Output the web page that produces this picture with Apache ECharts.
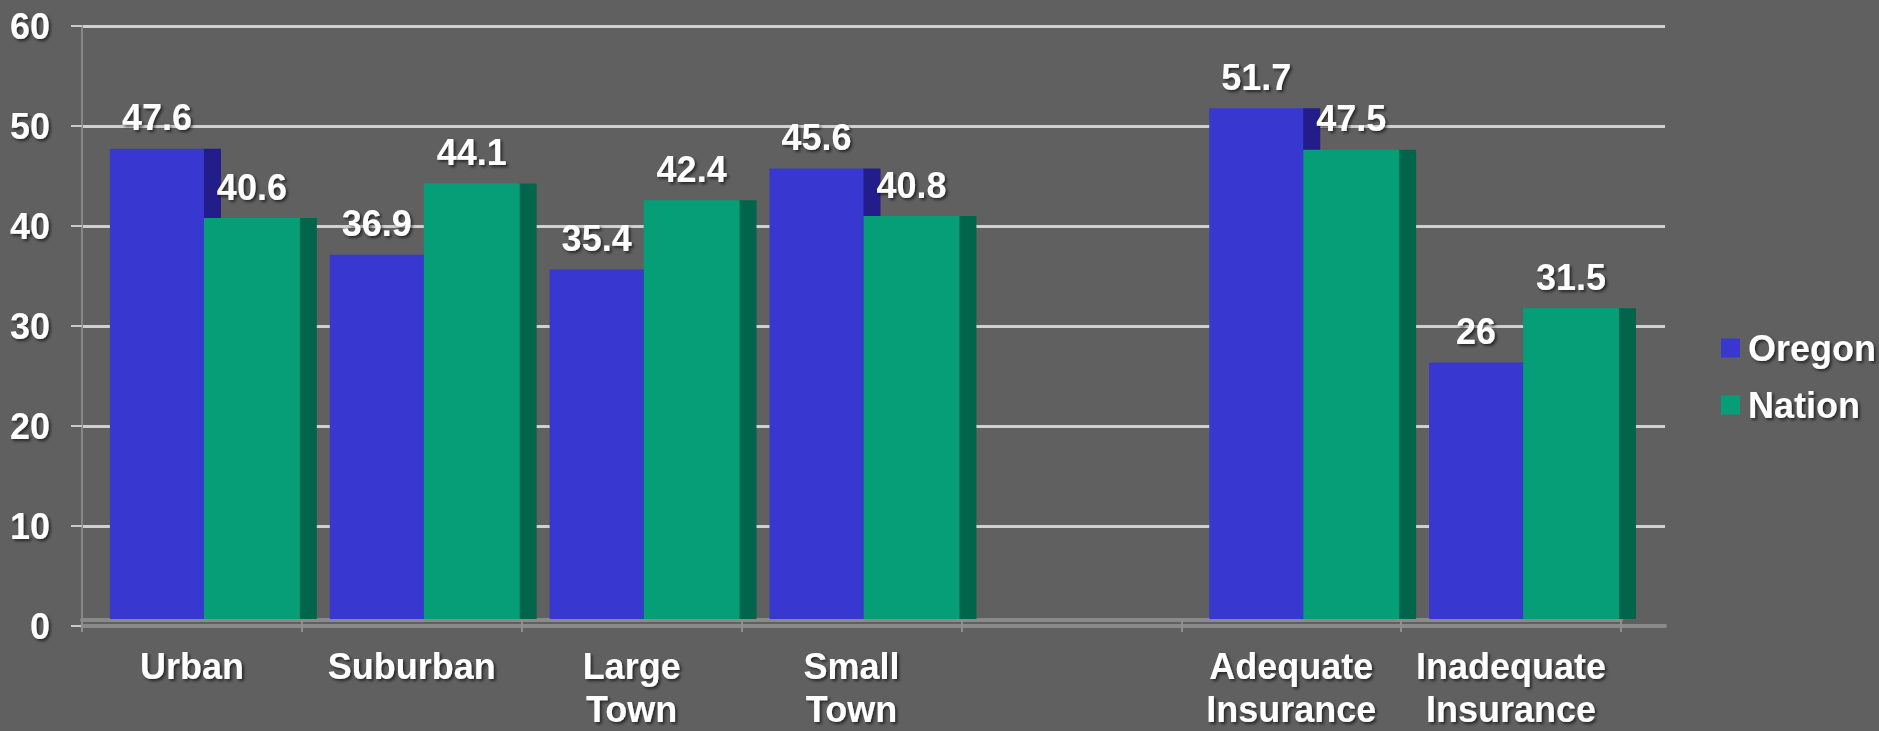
<!DOCTYPE html>
<html>
<head>
<meta charset="utf-8">
<script src="https://cdn.jsdelivr.net/npm/echarts@6/dist/echarts.min.js"></script>
<style>
html,body{margin:0;padding:0;background:#606060;}
#chart{width:1879px;height:731px;}
</style>
</head>
<body>
<div id="chart"></div>
<script>
const categories = ['Urban', 'Suburban', 'Large\nTown', 'Small\nTown', '', 'Adequate\nInsurance', 'Inadequate\nInsurance'];
const oregon = [47.6, 36.9, 35.4, 45.6, null, 51.7, 26];
const nation = [40.6, 44.1, 42.4, 40.8, null, 47.5, 31.5];
const yTicks = { min: 0, max: 60, interval: 10 };

const FONT = "'Liberation Sans', Arial, sans-serif";
const shadow = { textShadowColor: 'rgba(0,0,0,0.6)', textShadowBlur: 3, textShadowOffsetX: 2, textShadowOffsetY: 2 };

function makeRender(frontColor, sideColor, f0, f1, s1) {
  return function (params, api) {
    const v = api.value(1);
    if (v == null || isNaN(v)) return null;
    const idx = api.value(0);
    const top = api.coord([idx, v]);
    const base = api.coord([idx, 0]);
    const bw = api.size([1, 0])[0];
    const x0 = top[0] + f0 * bw, x1 = top[0] + f1 * bw, xs = top[0] + s1 * bw;
    const h = base[1] - top[1] - 1;
    return {
      type: 'group',
      children: [
        { type: 'rect', shape: { x: x1 - 1, y: top[1], width: xs - x1 + 1, height: h }, style: { fill: sideColor } },
        {
          type: 'rect', shape: { x: x0, y: top[1], width: x1 - x0, height: h }, style: { fill: frontColor },
          textContent: {
            style: Object.assign({
              text: String(v), fill: '#ffffff', fontSize: 36, fontWeight: 'bold', fontFamily: FONT
            }, shadow)
          },
          textConfig: { position: 'top', distance: 13 }
        }
      ]
    };
  };
}

const oregonData = oregon.map((v, i) => [i, v]);
const nationData = nation.map((v, i) => [i, v]);

const chart = echarts.init(document.getElementById('chart'), null, { renderer: 'svg' });
chart.setOption({
  backgroundColor: '#606060',
  animation: false,
  grid: [
    { left: 82, top: 26, width: 1583, height: 600 },
    { left: 82, top: 26, width: 1539, height: 600 }
  ],
  xAxis: [
    {
      gridIndex: 0, type: 'value', min: 0, max: 1,
      axisLine: { show: true, onZero: false, lineStyle: { color: '#8a8a8a', width: 4 } },
      axisTick: { show: false }, axisLabel: { show: false }, splitLine: { show: false }
    },
    {
      gridIndex: 1, type: 'category', data: categories,
      axisLine: { show: true, onZero: false, lineStyle: { color: '#8a8a8a', width: 4 } },
      axisTick: { show: true, interval: 0, length: 12, lineStyle: { color: '#8f8f8f', width: 2 } },
      axisLabel: Object.assign({
        interval: 0, color: '#ffffff', fontSize: 36, fontWeight: 'bold', fontFamily: FONT,
        lineHeight: 43, margin: 25
      }, shadow),
      splitLine: { show: false }
    }
  ],
  yAxis: [
    {
      gridIndex: 0, type: 'value', min: yTicks.min, max: yTicks.max, interval: yTicks.interval,
      axisLine: { show: true, lineStyle: { color: '#888888', width: 2 } },
      axisTick: { show: true, length: 11, lineStyle: { color: '#c9c9c9', width: 2 } },
      axisLabel: Object.assign({
        color: '#ffffff', fontSize: 36, fontWeight: 'bold', fontFamily: FONT, margin: 32
      }, shadow),
      splitLine: { show: true, lineStyle: { color: '#d0d0d0', width: 3 } }
    },
    {
      gridIndex: 1, type: 'value', min: yTicks.min, max: yTicks.max, interval: yTicks.interval,
      show: false, splitLine: { show: false }
    }
  ],
  legend: {
    orient: 'vertical', left: 1716, top: 325,
    itemWidth: 19, itemHeight: 19, itemGap: 21,
    icon: 'rect',
    data: ['Oregon', 'Nation'],
    textStyle: Object.assign({
      color: '#ffffff', fontSize: 36, fontWeight: 'bold', fontFamily: FONT, lineHeight: 36, padding: [0, 0, 0, 3]
    }, shadow)
  },
  series: [
    {
      name: 'Oregon', type: 'custom', xAxisIndex: 1, yAxisIndex: 1,
      itemStyle: { color: '#3838D0' },
      encode: { x: 0, y: 1 },
      renderItem: makeRender('#3838D0', '#221D8A', -0.373, 0.0546, 0.132),
      data: oregonData
    },
    {
      name: 'Nation', type: 'custom', xAxisIndex: 1, yAxisIndex: 1,
      itemStyle: { color: '#059E77' },
      encode: { x: 0, y: 1 },
      renderItem: makeRender('#059E77', '#00654A', 0.0546, 0.491, 0.568),
      data: nationData
    }
  ]
});
</script>
</body>
</html>
